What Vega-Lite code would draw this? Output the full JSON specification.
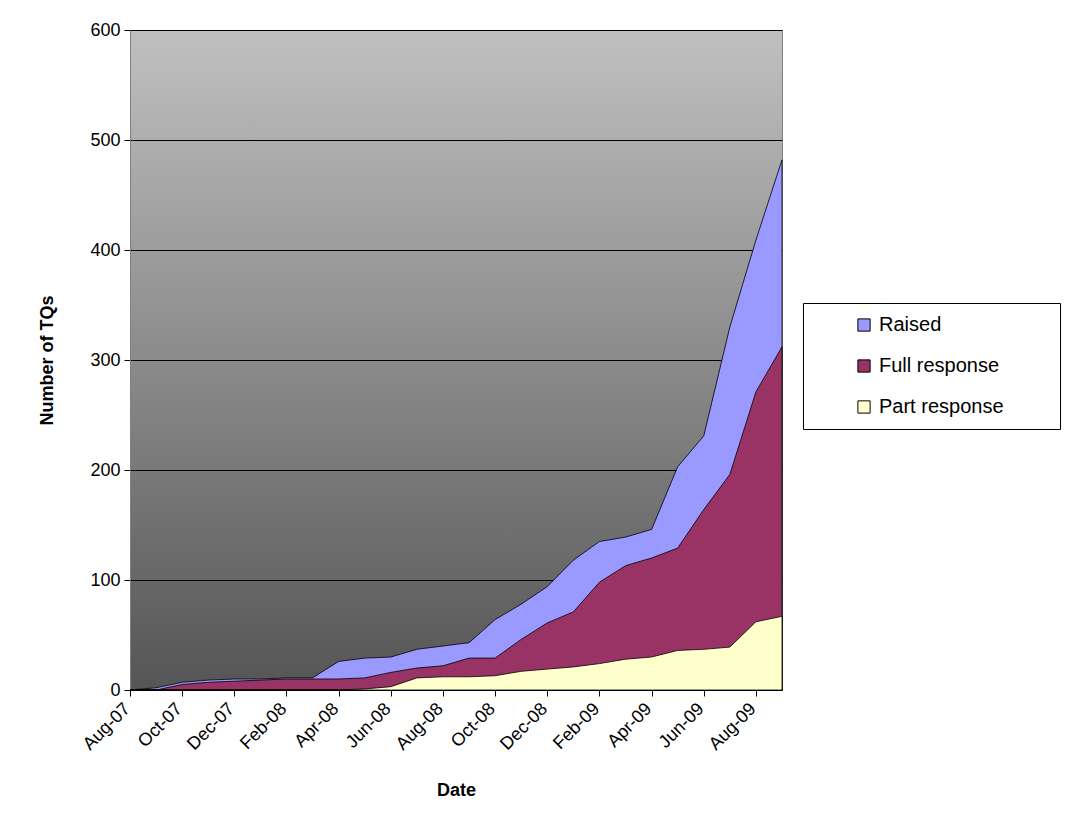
{
  "$schema": "https://vega.github.io/schema/vega-lite/v6.json",
  "width": 652,
  "height": 660,
  "autosize": "none",
  "padding": {"left": 130, "top": 30, "right": 289, "bottom": 135},
  "background": "white",
  "config": {
    "font": "Liberation Sans",
    "view": {
      "fill": {"gradient": "linear", "x1": 0, "y1": 0, "x2": 0, "y2": 1,
        "stops": [{"offset": 0, "color": "#c0c0c0"}, {"offset": 1, "color": "#555555"}]},
      "stroke": "#808080"
    }
  },
  "data": {"values": [
    {"month": "Aug-07", "series": "Raised", "value": 0},
    {"month": "Sep-07", "series": "Raised", "value": 2},
    {"month": "Oct-07", "series": "Raised", "value": 7},
    {"month": "Nov-07", "series": "Raised", "value": 9},
    {"month": "Dec-07", "series": "Raised", "value": 10},
    {"month": "Jan-08", "series": "Raised", "value": 10},
    {"month": "Feb-08", "series": "Raised", "value": 11},
    {"month": "Mar-08", "series": "Raised", "value": 11},
    {"month": "Apr-08", "series": "Raised", "value": 26},
    {"month": "May-08", "series": "Raised", "value": 29},
    {"month": "Jun-08", "series": "Raised", "value": 30},
    {"month": "Jul-08", "series": "Raised", "value": 37},
    {"month": "Aug-08", "series": "Raised", "value": 40},
    {"month": "Sep-08", "series": "Raised", "value": 43},
    {"month": "Oct-08", "series": "Raised", "value": 64},
    {"month": "Nov-08", "series": "Raised", "value": 78},
    {"month": "Dec-08", "series": "Raised", "value": 94},
    {"month": "Jan-09", "series": "Raised", "value": 118},
    {"month": "Feb-09", "series": "Raised", "value": 135},
    {"month": "Mar-09", "series": "Raised", "value": 139},
    {"month": "Apr-09", "series": "Raised", "value": 146},
    {"month": "May-09", "series": "Raised", "value": 203},
    {"month": "Jun-09", "series": "Raised", "value": 231},
    {"month": "Jul-09", "series": "Raised", "value": 330},
    {"month": "Aug-09", "series": "Raised", "value": 409},
    {"month": "Sep-09", "series": "Raised", "value": 482},
    {"month": "Aug-07", "series": "Full response", "value": 0},
    {"month": "Sep-07", "series": "Full response", "value": 0},
    {"month": "Oct-07", "series": "Full response", "value": 5},
    {"month": "Nov-07", "series": "Full response", "value": 7},
    {"month": "Dec-07", "series": "Full response", "value": 8},
    {"month": "Jan-08", "series": "Full response", "value": 9},
    {"month": "Feb-08", "series": "Full response", "value": 10},
    {"month": "Mar-08", "series": "Full response", "value": 10},
    {"month": "Apr-08", "series": "Full response", "value": 10},
    {"month": "May-08", "series": "Full response", "value": 11},
    {"month": "Jun-08", "series": "Full response", "value": 16},
    {"month": "Jul-08", "series": "Full response", "value": 20},
    {"month": "Aug-08", "series": "Full response", "value": 22},
    {"month": "Sep-08", "series": "Full response", "value": 29},
    {"month": "Oct-08", "series": "Full response", "value": 29},
    {"month": "Nov-08", "series": "Full response", "value": 46},
    {"month": "Dec-08", "series": "Full response", "value": 61},
    {"month": "Jan-09", "series": "Full response", "value": 71},
    {"month": "Feb-09", "series": "Full response", "value": 98},
    {"month": "Mar-09", "series": "Full response", "value": 113},
    {"month": "Apr-09", "series": "Full response", "value": 120},
    {"month": "May-09", "series": "Full response", "value": 129},
    {"month": "Jun-09", "series": "Full response", "value": 164},
    {"month": "Jul-09", "series": "Full response", "value": 196},
    {"month": "Aug-09", "series": "Full response", "value": 271},
    {"month": "Sep-09", "series": "Full response", "value": 312},
    {"month": "Aug-07", "series": "Part response", "value": 0},
    {"month": "Sep-07", "series": "Part response", "value": 0},
    {"month": "Oct-07", "series": "Part response", "value": 0},
    {"month": "Nov-07", "series": "Part response", "value": 0},
    {"month": "Dec-07", "series": "Part response", "value": 0},
    {"month": "Jan-08", "series": "Part response", "value": 0},
    {"month": "Feb-08", "series": "Part response", "value": 0},
    {"month": "Mar-08", "series": "Part response", "value": 0},
    {"month": "Apr-08", "series": "Part response", "value": 0},
    {"month": "May-08", "series": "Part response", "value": 1},
    {"month": "Jun-08", "series": "Part response", "value": 3},
    {"month": "Jul-08", "series": "Part response", "value": 11},
    {"month": "Aug-08", "series": "Part response", "value": 12},
    {"month": "Sep-08", "series": "Part response", "value": 12},
    {"month": "Oct-08", "series": "Part response", "value": 13},
    {"month": "Nov-08", "series": "Part response", "value": 17},
    {"month": "Dec-08", "series": "Part response", "value": 19},
    {"month": "Jan-09", "series": "Part response", "value": 21},
    {"month": "Feb-09", "series": "Part response", "value": 24},
    {"month": "Mar-09", "series": "Part response", "value": 28},
    {"month": "Apr-09", "series": "Part response", "value": 30},
    {"month": "May-09", "series": "Part response", "value": 36},
    {"month": "Jun-09", "series": "Part response", "value": 37},
    {"month": "Jul-09", "series": "Part response", "value": 39},
    {"month": "Aug-09", "series": "Part response", "value": 62},
    {"month": "Sep-09", "series": "Part response", "value": 67}
  ]},
  "mark": {"type": "area", "stroke": "black", "strokeWidth": 0.8, "fillOpacity": 1, "opacity": 1},
  "encoding": {
    "x": {
      "field": "month", "type": "ordinal", "sort": null,
      "scale": {"type": "point", "padding": 0},
      "axis": {
        "title": "Date",
        "values": ["Aug-07", "Oct-07", "Dec-07", "Feb-08", "Apr-08", "Jun-08", "Aug-08", "Oct-08", "Dec-08", "Feb-09", "Apr-09", "Jun-09", "Aug-09"],
        "labelAngle": -45, "labelAlign": "right", "labelBaseline": "middle",
        "labelFontSize": 18, "labelColor": "black", "labelPadding": 10, "labelOffset": -3,
        "tickSize": 6, "tickColor": "black", "domainColor": "black",
        "titleFontSize": 18, "titleFontWeight": "bold", "titleColor": "black", "titlePadding": 28,
        "grid": false
      }
    },
    "y": {
      "field": "value", "type": "quantitative", "stack": null,
      "scale": {"domain": [0, 600], "nice": false},
      "axis": {
        "title": "Number of TQs",
        "values": [0, 100, 200, 300, 400, 500, 600],
        "labelFontSize": 18, "labelColor": "black", "labelPadding": 4,
        "tickSize": 6, "tickColor": "black", "domainColor": "#808080",
        "grid": true, "gridColor": "black", "gridWidth": 1, "gridOpacity": 1,
        "titleFontSize": 18, "titleFontWeight": "bold", "titleColor": "black", "titlePadding": 33
      }
    },
    "color": {
      "field": "series", "type": "nominal",
      "scale": {"domain": ["Raised", "Full response", "Part response"], "range": ["#9999ff", "#993366", "#ffffcc"]},
      "legend": {
        "title": null, "orient": "none", "legendX": 673, "legendY": 273,
        "fillColor": "white", "strokeColor": "black", "padding": 12,
        "symbolType": "square", "symbolSize": 150, "symbolStrokeColor": "black", "symbolStrokeWidth": 1,
        "symbolOpacity": 1,
        "labelFontSize": 20, "labelColor": "black", "rowPadding": 21, "symbolOffset": 39, "labelOffset": 5,
        "labelLimit": 400,
        "labelExpr": "datum.label + '\u00a0\u00a0\u00a0\u00a0\u00a0\u00a0\u00a0\u00a0\u200b'"
      }
    }
  }
}
